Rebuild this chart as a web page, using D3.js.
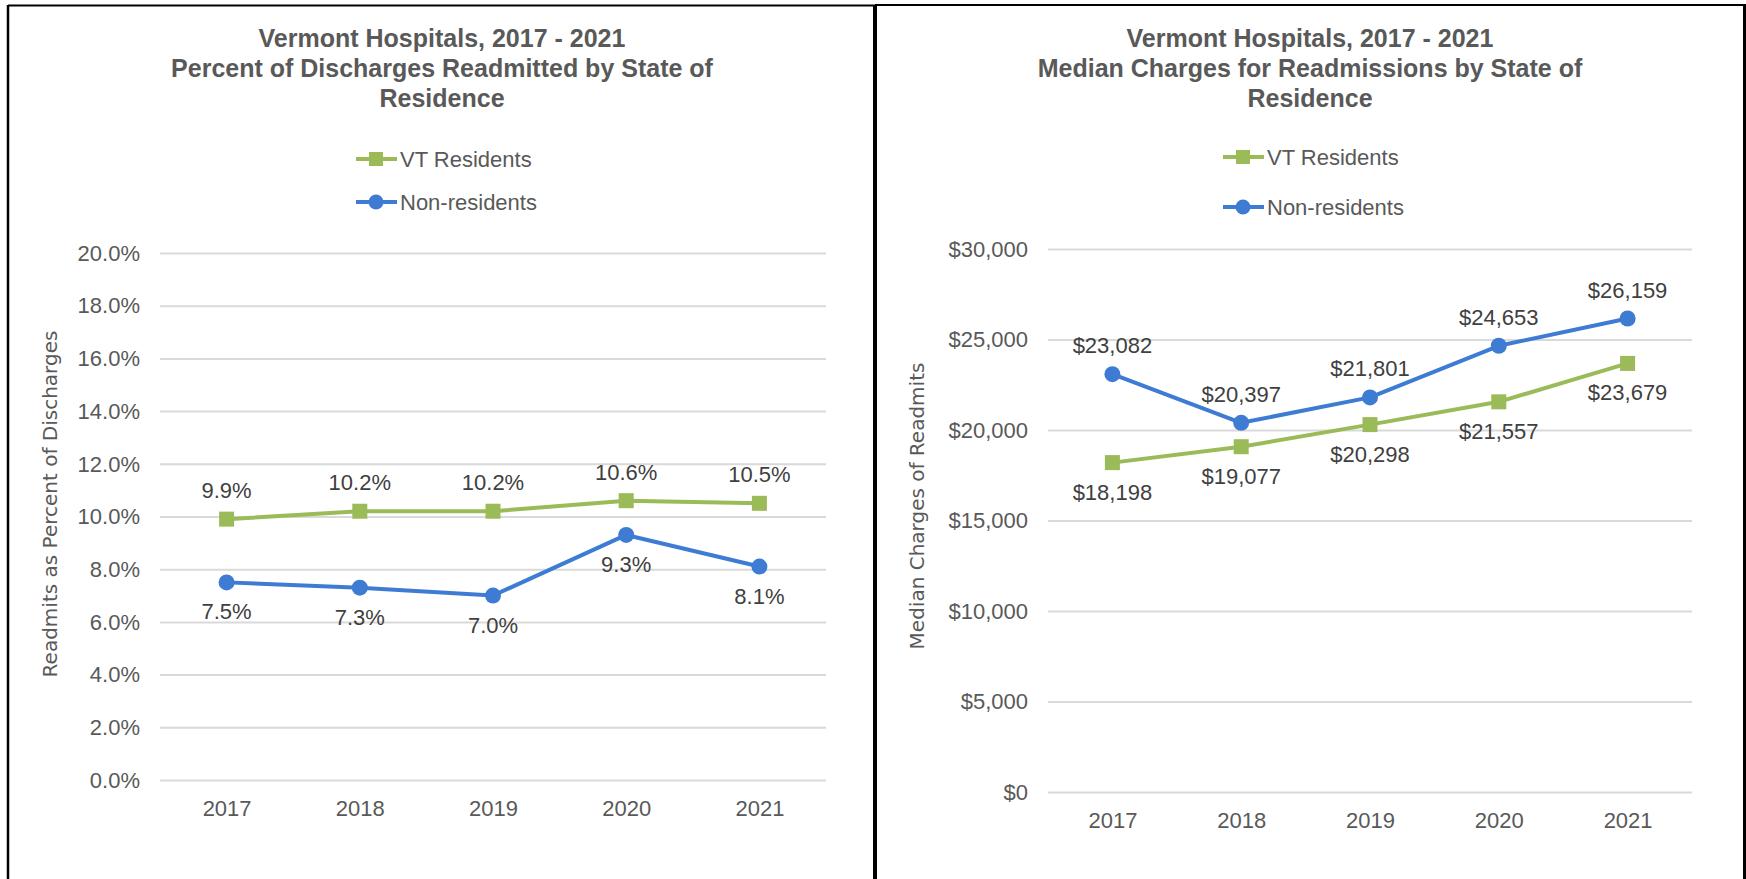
<!DOCTYPE html>
<html>
<head>
<meta charset="utf-8">
<script src="https://cdn.jsdelivr.net/npm/d3@7"></script>
<style>
  body { margin: 0; background: #fff; }
  svg { display: block; }
</style>
</head>
<body>
<div id="chart-container"></div>
<script>
// Data
const years = ["2017", "2018", "2019", "2020", "2021"];
const pctVT = [9.9, 10.2, 10.2, 10.6, 10.5];
const pctNonRes = [7.5, 7.3, 7.0, 9.3, 8.1];
const chargesVT = [18198, 19077, 20298, 21557, 23679];
const chargesNonRes = [23082, 20397, 21801, 24653, 26159];
const pctTicks = [0, 2, 4, 6, 8, 10, 12, 14, 16, 18, 20];
const chargeTicks = [0, 5000, 10000, 15000, 20000, 25000, 30000];
const seriesNames = ["VT Residents", "Non-residents"];

const green = "#9BBB59";
const blue = "#3E7CD4";
const textGrey = "#595959";
const labelGrey = "#404040";
const font = "'Liberation Sans', Arial, sans-serif";

const svg = d3.select("#chart-container")
  .append("svg")
  .attr("width", 1746)
  .attr("height", 879);

// Panel frames
const frame = svg.append("g").attr("stroke", "#000").attr("fill", "none");
frame.append("line").attr("x1", 8).attr("x2", 8).attr("y1", 5).attr("y2", 879).attr("stroke-width", 2.5);
frame.append("line").attr("x1", 8).attr("x2", 875).attr("y1", 5.5).attr("y2", 5.5).attr("stroke-width", 2);
frame.append("line").attr("x1", 875).attr("x2", 875).attr("y1", 5).attr("y2", 879).attr("stroke-width", 4);
frame.append("line").attr("x1", 875).attr("x2", 1746).attr("y1", 5).attr("y2", 5).attr("stroke-width", 2);
frame.append("line").attr("x1", 1744.5).attr("x2", 1744.5).attr("y1", 4).attr("y2", 879).attr("stroke-width", 3);

// Draw one line chart panel
function drawPanel(opt) {
  const g = svg.append("g");

  // Title
  opt.title.forEach((line, i) => {
    g.append("text")
      .attr("x", opt.center)
      .attr("y", 47 + i * 30)
      .attr("text-anchor", "middle")
      .style("font-family", font)
      .style("font-weight", "bold")
      .style("font-size", "25px")
      .style("fill", textGrey)
      .text(line);
  });

  // Legend
  const legend = g.append("g");
  seriesNames.forEach((name, i) => {
    const row = legend.append("g")
      .attr("transform", `translate(${opt.legendX}, ${opt.legendY + i * opt.legendGap})`);
    const col = i === 0 ? green : blue;
    row.append("line")
      .attr("x1", 0).attr("x2", 41)
      .attr("stroke", col).attr("stroke-width", 4);
    if (i === 0) {
      row.append("rect").attr("x", 13).attr("y", -7).attr("width", 14).attr("height", 14).attr("fill", col);
    } else {
      row.append("circle").attr("cx", 20).attr("r", 7.5).attr("fill", col);
    }
    row.append("text")
      .attr("x", 44)
      .attr("dy", "0.35em")
      .style("font-family", font)
      .style("font-size", "22px")
      .style("fill", textGrey)
      .text(name);
  });

  const x = d3.scalePoint()
    .domain(years)
    .range([opt.left, opt.right])
    .padding(0.5);

  const y = d3.scaleLinear()
    .domain([opt.ticks[0], opt.ticks[opt.ticks.length - 1]])
    .range([opt.bottom, opt.top]);

  // Y axis with gridlines
  const yAxis = g.append("g")
    .attr("transform", `translate(${opt.left},0)`)
    .call(d3.axisLeft(y)
      .tickValues(opt.ticks)
      .tickSize(-(opt.right - opt.left))
      .tickPadding(20)
      .tickFormat(opt.tickFormat));
  yAxis.select(".domain").remove();
  yAxis.selectAll("line").attr("stroke", "#D9D9D9").attr("stroke-width", 2);
  yAxis.selectAll("text")
    .attr("dy", "0.33em")
    .style("font-family", font)
    .style("font-size", "22px")
    .style("fill", textGrey);

  // X axis
  const xAxis = g.append("g")
    .attr("transform", `translate(0,${opt.bottom})`)
    .call(d3.axisBottom(x).tickSize(0));
  xAxis.select(".domain").remove();
  xAxis.selectAll("text")
    .attr("y", 36)
    .attr("dy", null)
    .style("font-family", font)
    .style("font-size", "22px")
    .style("fill", textGrey);

  // Y axis title
  g.append("text")
    .attr("transform", `translate(${opt.yTitleX},${opt.yTitleY}) rotate(-90)`)
    .attr("text-anchor", "middle")
    .attr("dy", "0.35em")
    .style("font-family", "'DejaVu Sans', sans-serif")
    .style("font-size", "20px")
    .style("fill", textGrey)
    .text(opt.yTitle);

  const line = d3.line()
    .x((d, i) => x(years[i]))
    .y(d => y(d));

  opt.series.forEach(s => {
    g.append("path")
      .datum(s.values)
      .attr("fill", "none")
      .attr("stroke", s.color)
      .attr("stroke-width", 4)
      .attr("stroke-linejoin", "round")
      .attr("d", line);

    if (s.marker === "square") {
      g.selectAll(null)
        .data(s.values)
        .enter().append("rect")
        .attr("x", (d, i) => x(years[i]) - 7.5)
        .attr("y", d => y(d) - 7.5)
        .attr("width", 15)
        .attr("height", 15)
        .attr("fill", s.color);
    } else {
      g.selectAll(null)
        .data(s.values)
        .enter().append("circle")
        .attr("cx", (d, i) => x(years[i]))
        .attr("cy", d => y(d))
        .attr("r", 8)
        .attr("fill", s.color);
    }

    g.selectAll(null)
      .data(s.values)
      .enter().append("text")
      .attr("x", (d, i) => x(years[i]))
      .attr("y", d => y(d) + s.labelDy)
      .attr("text-anchor", "middle")
      .style("font-family", font)
      .style("font-size", "22px")
      .style("fill", labelGrey)
      .text(opt.labelFormat);
  });
}

drawPanel({
  title: ["Vermont Hospitals, 2017 - 2021", "Percent of Discharges Readmitted by State of", "Residence"],
  center: 442,
  legendX: 356, legendY: 159, legendGap: 43,
  left: 160, right: 826, top: 253, bottom: 780,
  ticks: pctTicks,
  tickFormat: d => d.toFixed(1) + "%",
  labelFormat: d => d.toFixed(1) + "%",
  yTitle: "Readmits as Percent of Discharges",
  yTitleX: 50, yTitleY: 504,
  series: [
    { values: pctVT, color: green, marker: "square", labelDy: -21 },
    { values: pctNonRes, color: blue, marker: "circle", labelDy: 37 }
  ]
});

drawPanel({
  title: ["Vermont Hospitals, 2017 - 2021", "Median Charges for Readmissions by State of", "Residence"],
  center: 1310,
  legendX: 1223, legendY: 157, legendGap: 50,
  left: 1048, right: 1692, top: 249, bottom: 792,
  ticks: chargeTicks,
  tickFormat: d => "$" + d3.format(",")(d),
  labelFormat: d => "$" + d3.format(",")(d),
  yTitle: "Median Charges of Readmits",
  yTitleX: 917, yTitleY: 506,
  series: [
    { values: chargesVT, color: green, marker: "square", labelDy: 37 },
    { values: chargesNonRes, color: blue, marker: "circle", labelDy: -21 }
  ]
});
</script>
</body>
</html>
